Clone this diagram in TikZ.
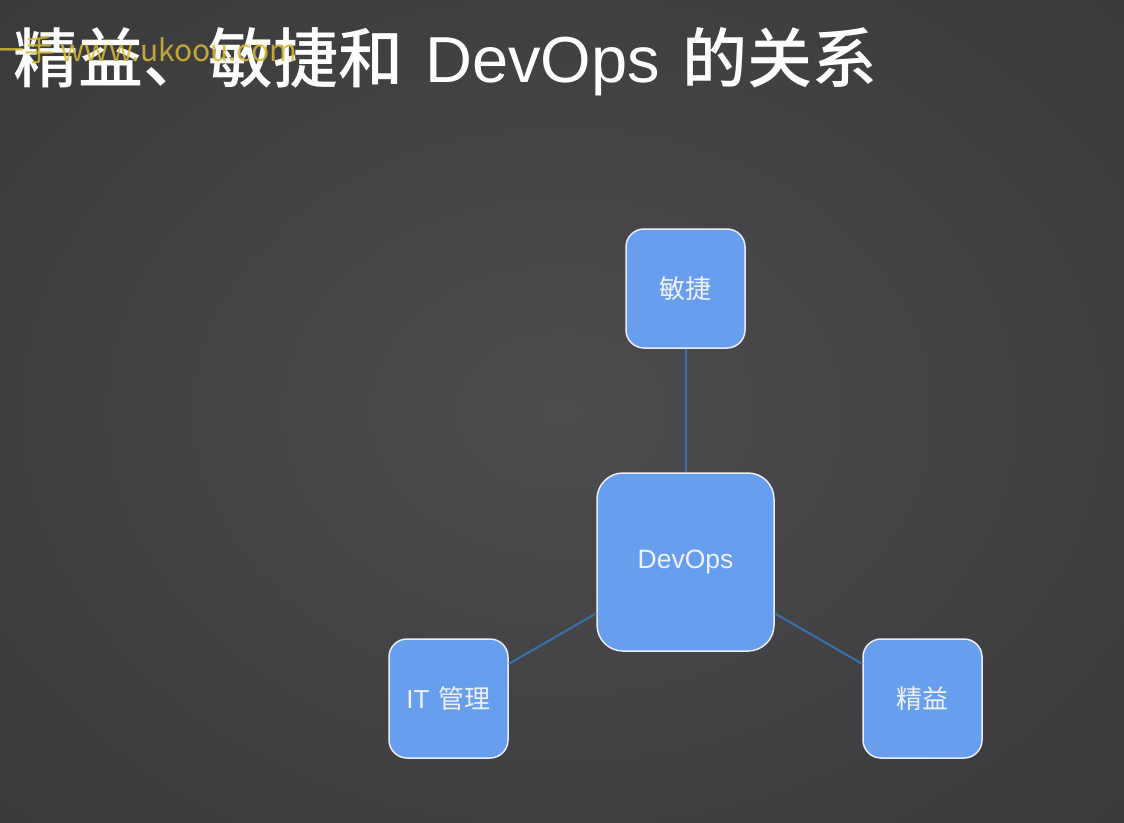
\documentclass[tikz,border=0pt]{standalone}
\usepackage{fontspec}
\newfontfamily\cjk{Noto Sans CJK SC}
\newfontfamily\cjkb{Noto Sans CJK SC Medium}
\newfontfamily\lat{Liberation Sans}
\usetikzlibrary{shadings}
\definecolor{bgin}{RGB}{76,76,79}
\definecolor{bgout}{RGB}{56,56,58}
\definecolor{boxfill}{RGB}{104,158,238}
\definecolor{link}{RGB}{56,112,172}
\definecolor{wm}{RGB}{214,186,50}
\tikzset{
  box/.style={draw=white!92!blue, line width=1.5pt, fill=boxfill, rounded corners=18pt,
    minimum width=119pt, minimum height=119pt, inner sep=0pt, text=white!94!blue,
    font=\cjk\fontsize{26}{30}\selectfont},
  bigbox/.style={box, rounded corners=26pt, minimum width=177pt, minimum height=178pt},
  conn/.style={draw=link, line width=2pt},
}
\begin{document}
\begin{tikzpicture}[x=1pt,y=-1pt]
\useasboundingbox (0,0) rectangle (1124,822);
\shade[inner color=bgin, outer color=bgout] (-300,-250) rectangle (1424,1072);
\node[anchor=base west, text=white, font=\cjkb\fontsize{65}{70}\selectfont, inner sep=0pt] (title) at (13,82) {精益、敏捷和\hspace{22pt}{\lat DevOps}\hspace{22pt}的关系};
\node[anchor=west, text=wm, opacity=0.85, font=\cjk\fontsize{30}{32}\selectfont, inner sep=0pt] (wmark) at (-6,50) {一手 www.ukoou.com};
\node[bigbox, font=\lat\fontsize{26.5}{30}\selectfont] (dev) at (685.5,562) {DevOps};
\node[box] (agile) at (685.5,288.5) {敏捷};
\node[box] (it) at (448.5,698.5) {{\lat IT}\hspace{9pt}管理};
\node[box] (lean) at (922.5,698.5) {精益};
\draw[conn] (dev) -- (agile);
\draw[conn] (dev) -- (it);
\draw[conn] (dev) -- (lean);
\end{tikzpicture}
\end{document}
